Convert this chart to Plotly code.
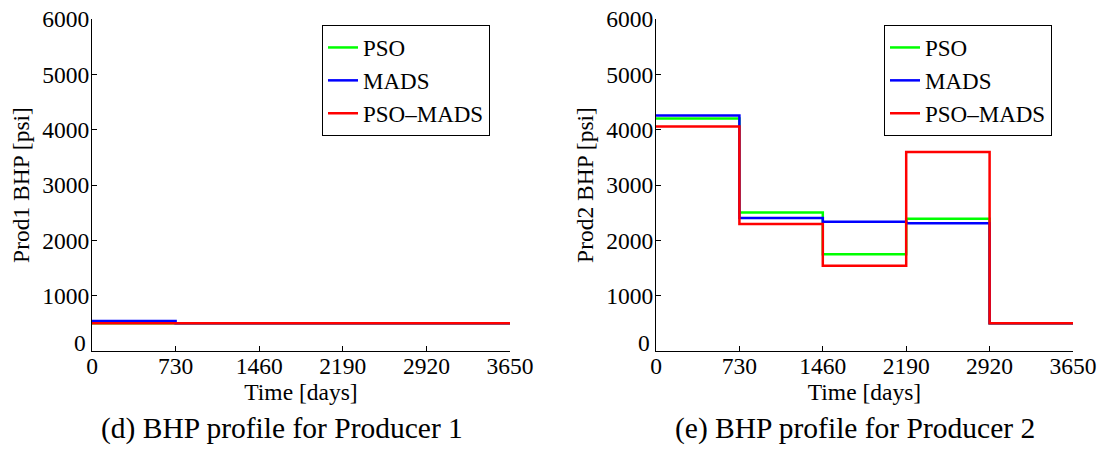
import plotly.graph_objects as go

# Control-step boundaries (days) and BHP per step (psi)
time_days = [0, 730, 1460, 2190, 2920, 3650]
x_tick_vals = [0, 730, 1460, 2190, 2920, 3650]
y_tick_vals = [0, 1000, 2000, 3000, 4000, 5000, 6000]
# the zero label sits slightly above its tick (drawn separately) so it clears the x-axis "0"
y_tick_text = ["", "1000", "2000", "3000", "4000", "5000", "6000"]

prod1_pso = [500, 500, 500, 500, 500]
prod1_mads = [540, 500, 500, 500, 500]
prod1_psomads = [500, 500, 500, 500, 500]

prod2_pso = [4200, 2505, 1750, 2390, 500]
prod2_mads = [4255, 2405, 2335, 2310, 500]
prod2_psomads = [4055, 2295, 1540, 3595, 500]

series_names = ["PSO", "MADS", "PSO\u2013MADS"]
series_colors = ["#00ff00", "#0000ff", "#ff0000"]

FONT = "Liberation Serif"
W, H = 1105, 450
ML, MR, MT, MB = 92, 32, 19, 99
inner_w = W - ML - MR
inner_h = H - MT - MB

fig = go.Figure()


def step_y(vals):
    # repeat the last step value so the line reaches the end of the horizon
    return list(vals) + [vals[-1]]


for name, color, vals in zip(series_names, series_colors,
                             [prod1_pso, prod1_mads, prod1_psomads]):
    fig.add_trace(go.Scatter(x=time_days, y=step_y(vals), mode="lines", line_shape="hv",
                             line=dict(color=color, width=2.5), name=name,
                             xaxis="x", yaxis="y", legend="legend"))

for name, color, vals in zip(series_names, series_colors,
                             [prod2_pso, prod2_mads, prod2_psomads]):
    fig.add_trace(go.Scatter(x=time_days, y=step_y(vals), mode="lines", line_shape="hv",
                             line=dict(color=color, width=2.5), name=name,
                             xaxis="x2", yaxis="y2", legend="legend2"))

left_dom = [0, (510 - ML) / inner_w]
right_dom = [(656 - ML) / inner_w, 1]

axis_common = dict(showline=True, linecolor="black", linewidth=1, mirror=False,
                   ticks="inside", ticklen=5, tickcolor="black", showgrid=False,
                   zeroline=False, automargin=False,
                   tickfont=dict(family=FONT, size=23.5, color="black"))
x_axis_extra = dict(ticklabelstandoff=-6, tickvals=x_tick_vals, range=[0, 3650])
y_axis_extra = dict(ticklabelstandoff=-3, tickvals=y_tick_vals, ticktext=y_tick_text,
                    range=[0, 6000])
title_font = dict(family=FONT, size=23.5, color="black")


def px_x(px):
    return (px - ML) / inner_w


def px_y(py):
    return (H - MB - py) / inner_h


legend_common = dict(yanchor="top", xanchor="left", bgcolor="white", bordercolor="black",
                     borderwidth=1, font=dict(family=FONT, size=23, color="black"),
                     tracegroupgap=0, itemwidth=30)

caption_font = dict(family=FONT, size=29.5, color="black")
zero_font = dict(family=FONT, size=23.5, color="black")

fig.update_layout(
    width=W, height=H,
    margin=dict(l=ML, r=MR, t=MT, b=MB, autoexpand=False),
    paper_bgcolor="white", plot_bgcolor="white",
    xaxis=dict(domain=left_dom, anchor="y",
               title=dict(text="Time [days]", font=title_font, standoff=0),
               **axis_common, **x_axis_extra),
    yaxis=dict(anchor="x",
               title=dict(text="Prod1 BHP [psi]", font=title_font, standoff=6),
               **axis_common, **y_axis_extra),
    xaxis2=dict(domain=right_dom, anchor="y2",
                title=dict(text="Time [days]", font=title_font, standoff=0),
                **axis_common, **x_axis_extra),
    yaxis2=dict(anchor="x2",
                title=dict(text="Prod2 BHP [psi]", font=title_font, standoff=6),
                **axis_common, **y_axis_extra),
    legend=dict(x=px_x(322), y=px_y(25), **legend_common),
    legend2=dict(x=px_x(884), y=px_y(25), **legend_common),
    annotations=[
        dict(text="0", x=px_x(88), y=px_y(343), xref="paper", yref="paper",
             showarrow=False, xanchor="right", yanchor="middle", font=zero_font),
        dict(text="0", x=px_x(652), y=px_y(343), xref="paper", yref="paper",
             showarrow=False, xanchor="right", yanchor="middle", font=zero_font),
        dict(text="(d) BHP profile for Producer 1", x=px_x(282), y=px_y(428),
             xref="paper", yref="paper", showarrow=False, xanchor="center", yanchor="middle",
             font=caption_font),
        dict(text="(e) BHP profile for Producer 2", x=px_x(855), y=px_y(428),
             xref="paper", yref="paper", showarrow=False, xanchor="center", yanchor="middle",
             font=caption_font),
    ],
)

fig.write_html("out.html")
